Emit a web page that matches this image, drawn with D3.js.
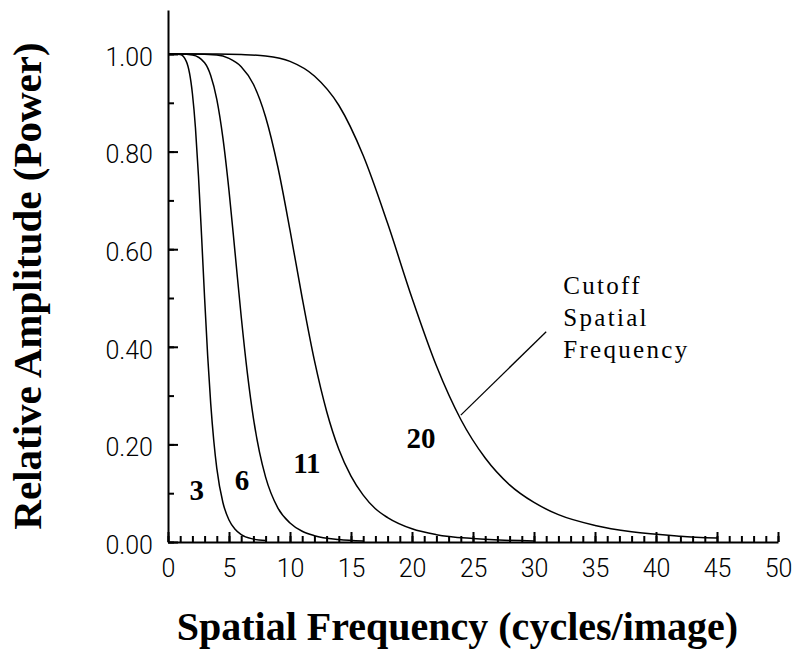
<!DOCTYPE html>
<html>
<head>
<meta charset="utf-8">
<script src="https://cdn.jsdelivr.net/npm/d3@7/dist/d3.min.js"></script>
<style>
  html, body { margin: 0; padding: 0; background: #fff; }
  svg { display: block; }
</style>
</head>
<body>
<svg id="chart" width="794" height="659"></svg>
<script>
// ---- data ----
const freq3  = [0, 0.5, 1, 1.5, 2, 2.25, 2.5, 2.75, 3, 3.25, 3.5, 3.75, 4, 4.5, 5, 5.5, 6, 7, 8];
const amp3   = [1, 1, 0.999, 0.985, 0.919, 0.849, 0.749, 0.628, 0.5, 0.382, 0.284, 0.208, 0.151, 0.081, 0.045, 0.026, 0.015, 0.006, 0.003];

const freq6  = [0, 1, 2, 3, 3.5, 4, 4.5, 5, 5.5, 6, 6.5, 7, 7.5, 8, 9, 10, 11, 12, 14, 16];
const amp6   = [1, 1, 0.998, 0.982, 0.956, 0.907, 0.828, 0.720, 0.592, 0.462, 0.347, 0.254, 0.184, 0.133, 0.070, 0.039, 0.022, 0.013, 0.005, 0.002];

const freq11 = [0, 2, 4, 5, 6, 7, 8, 9, 10, 11, 12, 13, 14, 15, 16, 17, 18, 20, 22, 25, 30];
const amp11  = [1, 1, 0.998, 0.991, 0.974, 0.938, 0.871, 0.769, 0.639, 0.5, 0.372, 0.268, 0.190, 0.135, 0.096, 0.068, 0.050, 0.027, 0.015, 0.007, 0.002];

const freq20 = [0, 4, 6, 8, 10, 12, 14, 16, 18, 20, 22, 24, 26, 28, 30, 32, 35, 38, 42, 45];
const amp20  = [1, 1, 0.999, 0.996, 0.985, 0.955, 0.895, 0.792, 0.653, 0.5, 0.361, 0.251, 0.172, 0.117, 0.081, 0.056, 0.034, 0.021, 0.012, 0.008];

const cutoffLabels = ["3", "6", "11", "20"];
const labelFreq    = [2.35, 6.07, 11.38, 20.73];
const labelAmp     = [0.107, 0.127, 0.162, 0.2125];

const xMajorTicks = [0, 5, 10, 15, 20, 25, 30, 35, 40, 45, 50];
const yMajorTicks = [0, 0.2, 0.4, 0.6, 0.8, 1.0];
const yTickLabels = ["0.00", "0.20", "0.40", "0.60", "0.80", "1.00"];

const annotationLines = ["Cutoff", "Spatial", "Frequency"];
const annotationFrom = [24.0, 0.26];
const annotationTo   = [31.0, 0.431];
const annotationText = [32.4, 0.508];

const xTitle = "Spatial Frequency (cycles/image)";
const yTitle = "Relative Amplitude (Power)";

// ---- chart ----
const svg = d3.select("#chart");
svg.append("rect").attr("width", 794).attr("height", 659).attr("fill", "#fff");

const x = d3.scaleLinear().domain([0, 50]).range([168, 778]);
const y = d3.scaleLinear().domain([0, 1]).range([542, 54]);
const yTop = 1.09;

const series = [
  {f: freq3, a: amp3},
  {f: freq6, a: amp6},
  {f: freq11, a: amp11},
  {f: freq20, a: amp20}
];

const line = d3.line()
  .x(d => x(d[0]))
  .y(d => y(d[1]))
  .curve(d3.curveMonotoneX);

const tickFont = "Roboto, 'Liberation Sans', sans-serif";
const serif = "'Liberation Serif', 'Times New Roman', serif";

// minor ticks
const xMinor = d3.range(0, 51, 1);
const yMinor = d3.range(0, 11, 1).map(d => d / 10);

svg.append("g")
  .attr("transform", `translate(0,${y(0)})`)
  .call(d3.axisBottom(x).tickValues(xMinor).tickSize(-6).tickSizeOuter(0).tickFormat(""))
  .call(g => g.select(".domain").remove())
  .call(g => g.selectAll("line").attr("stroke", "#000").attr("stroke-width", 2));

svg.append("g")
  .attr("transform", `translate(${x(0)},0)`)
  .call(d3.axisLeft(y).tickValues(yMinor).tickSize(-6).tickSizeOuter(0).tickFormat(""))
  .call(g => g.select(".domain").remove())
  .call(g => g.selectAll("line").attr("stroke", "#000").attr("stroke-width", 2));

// major x axis
svg.append("g")
  .attr("transform", `translate(0,${y(0)})`)
  .call(d3.axisBottom(x).tickValues(xMajorTicks).tickSize(-10).tickSizeOuter(0).tickPadding(17).tickFormat(d3.format("d")))
  .call(g => g.select(".domain").attr("stroke", "#000").attr("stroke-width", 2))
  .call(g => g.selectAll("line").attr("stroke", "#000").attr("stroke-width", 2))
  .call(g => g.selectAll("text")
    .attr("fill", "#000")
    .style("font-family", tickFont)
    .style("font-weight", 300)
    .style("font-size", "25px"));

// major y axis
const yAxisScale = d3.scaleLinear().domain([0, yTop]).range([y(0), y(yTop)]);
svg.append("g")
  .attr("transform", `translate(${x(0)},0)`)
  .call(d3.axisLeft(yAxisScale).tickValues(yMajorTicks).tickSize(-10).tickSizeOuter(0).tickPadding(15)
    .tickFormat((d, i) => yTickLabels[i]))
  .call(g => g.select(".domain").attr("stroke", "#000").attr("stroke-width", 2))
  .call(g => g.selectAll("line").attr("stroke", "#000").attr("stroke-width", 2))
  .call(g => g.selectAll("text")
    .attr("fill", "#000")
    .attr("dy", "0.45em")
    .style("font-family", tickFont)
    .style("font-weight", 300)
    .style("font-size", "25px"));

// curves
svg.append("g")
  .selectAll("path")
  .data(series)
  .join("path")
  .attr("d", s => line(s.f.map((f, i) => [f, s.a[i]])))
  .attr("fill", "none")
  .attr("stroke", "#000")
  .attr("stroke-width", 1.5);

// curve labels
svg.append("g")
  .selectAll("text")
  .data(cutoffLabels)
  .join("text")
  .attr("x", (d, i) => x(labelFreq[i]))
  .attr("y", (d, i) => y(labelAmp[i]))
  .attr("text-anchor", "middle")
  .attr("dy", "0.35em")
  .style("font-family", serif)
  .style("font-weight", "bold")
  .style("font-size", "29px")
  .text(d => d);

// annotation
svg.append("line")
  .attr("x1", x(annotationFrom[0])).attr("y1", y(annotationFrom[1]))
  .attr("x2", x(annotationTo[0])).attr("y2", y(annotationTo[1]))
  .attr("stroke", "#000").attr("stroke-width", 1.3);

svg.append("g")
  .selectAll("text")
  .data(annotationLines)
  .join("text")
  .attr("x", x(annotationText[0]))
  .attr("y", (d, i) => y(annotationText[1]) + i * 32)
  .style("font-family", serif)
  .style("font-size", "25px")
  .style("letter-spacing", "2.3px")
  .text(d => d);

// axis titles
svg.append("text")
  .attr("x", 457.5)
  .attr("y", 640)
  .attr("text-anchor", "middle")
  .style("font-family", serif)
  .style("font-weight", "bold")
  .style("font-size", "40px")
  .text(xTitle);

svg.append("text")
  .attr("transform", `translate(41,286) rotate(-90)`)
  .attr("text-anchor", "middle")
  .style("font-family", serif)
  .style("font-weight", "bold")
  .style("font-size", "41px")
  .text(yTitle);
</script>
</body>
</html>
